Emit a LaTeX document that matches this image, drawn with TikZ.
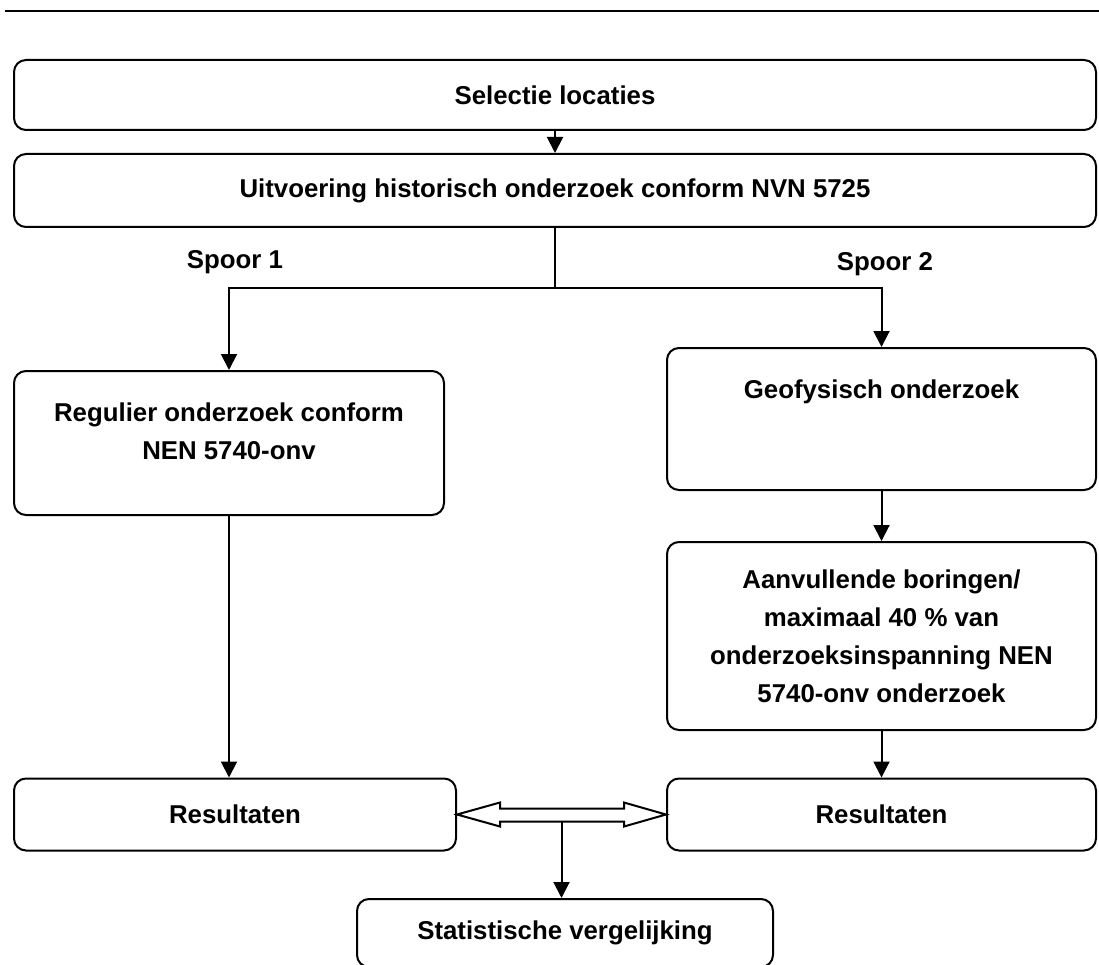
\documentclass[tikz,border=0pt]{standalone}
\usepackage{fontspec}
\setmainfont{Liberation Sans}
\usetikzlibrary{arrows.meta,positioning,calc}

\begin{document}
\begin{tikzpicture}[x=1pt,y=-1pt,->,>={Triangle[length=16pt,width=16pt]},line width=2pt,
    font=\fontsize{25.8}{38}\selectfont\bfseries]
  \tikzstyle{box}=[draw,rounded corners=12pt,align=center,inner sep=0pt,minimum height=72pt]
  \tikzstyle{toptext}=[anchor=north,yshift=-32pt,align=center,inner sep=0pt]
  \useasboundingbox (0,0) rectangle (1099,965);
  \clip (0,0) rectangle (1099,965);

  \draw[-] (5,11) -- (1099,11);

  \node[box,minimum width=1082pt,minimum height=70pt] (sel)  at (555,95)    {Selectie locaties};
  \node[box,minimum width=1082pt,minimum height=73pt] (hist) at (555,190.5) {Uitvoering historisch onderzoek conform NVN 5725};
  \node (sp1) at (235,262) {Spoor 1};
  \node (sp2) at (885,264) {Spoor 2};
  \node[box,minimum width=430pt,minimum height=144pt,
        label={[toptext]north:Regulier onderzoek conform\\NEN 5740-onv}] (reg) at (229,443) {};
  \node[box,minimum width=429pt,minimum height=142pt,
        label={[toptext]north:Geofysisch onderzoek}] (geo) at (881.5,419) {};
  \node[box,minimum width=429pt,minimum height=188pt] (aanv) at (881.5,636)
        {Aanvullende boringen/\\maximaal 40 \% van\\onderzoeksinspanning NEN\\5740-onv onderzoek};
  \node[box,minimum width=442pt] (resL) at (235,814.5)   {Resultaten};
  \node[box,minimum width=429pt] (resR) at (881.5,814.5) {Resultaten};
  \node[box,minimum width=416pt,minimum height=68pt] (stat) at (565,933) {Statistische vergelijking};

  % splitsing na historisch onderzoek
  \coordinate (split) at ($(hist.south)+(0,60)$);
  \draw[-] (hist.south) -- (split);
  \draw (split) -| (reg.north);
  \draw (split) -| (geo.north);

  \path (sel.south) edge (hist.north)
        (geo.south) edge (aanv.north)
        (aanv.south) edge (resR.north);
  \draw (reg.south) -- (reg.south |- resL.north);

  % dubbele pijl tussen de resultaten
  \coordinate (dl) at (resL.east);
  \coordinate (dr) at (resR.west);
  \draw[-,line join=miter] (dl) -- ++(43,-12) -- ++(0,6) -- ($(dr)+(-42,-6)$) -- ++(0,-6) -- (dr)
        -- ++(-42,12) -- ++(0,-5) -- ($(dl)+(43,7)$) -- ++(0,5) -- cycle;
  \coordinate (mid) at ($(dl)!0.5!(dr)+(0,7)$);
  \draw (mid) -- (mid |- stat.north);
\end{tikzpicture}
\end{document}
